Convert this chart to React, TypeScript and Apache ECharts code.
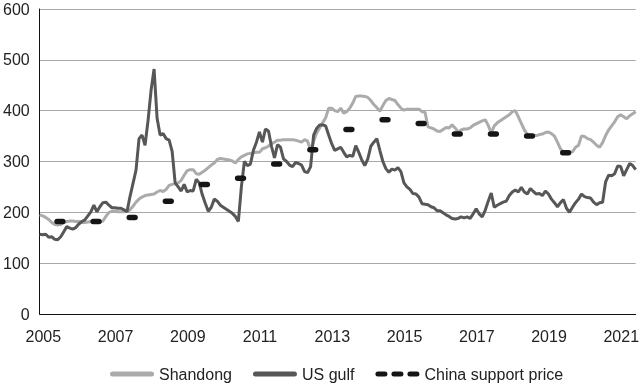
import React, { useEffect, useRef } from "react";
import * as echarts from "echarts";

// Monthly series, starting January 2005
const START_YEAR = 2005;

const shandong = [
  195, 193, 190, 186, 180, 176, 175, 176, 180, 182, 183, 183,
  182, 182, 180, 180, 181, 182, 181, 180, 181, 183, 192, 200,
  202, 202, 201, 201, 201, 202, 205, 212, 220, 226, 230, 233,
  234, 235, 236, 240, 243, 241, 245, 253, 255, 256, 258, 263,
  273, 282, 284, 284, 276, 275, 279, 283, 288, 293, 297, 304,
  306, 305, 304, 303, 301, 297, 304, 309, 312, 315, 316, 317,
  318, 318, 325, 327, 330, 335, 338, 342, 342, 343, 343, 343,
  343, 342, 340, 338, 343, 340, 322, 340, 356, 366, 376, 386,
  405, 405, 400, 398, 405, 395, 398, 405, 415, 428, 429, 429,
  428, 426, 420, 412, 406, 399, 410, 420, 424, 422, 420, 412,
  405, 401, 403, 403, 403, 403, 403, 398, 397, 368, 366, 364,
  360, 359, 363, 367, 366, 372, 366, 358, 362, 364, 364, 366,
  371, 374, 377, 380, 382, 371, 356, 370, 376, 380, 384, 388,
  392, 398, 400, 388, 375, 362, 354, 351, 351, 351, 353, 354,
  357, 358, 355, 350, 338, 325, 318, 317, 318, 319, 328, 332,
  350, 349, 345, 343, 338, 332, 328, 337, 351, 362, 370, 378,
  388, 392, 388, 384, 390, 394, 398,
];

const usGulf = [
  157, 156, 157, 151, 152, 147, 146, 152, 162, 172, 169, 167,
  170, 177, 182, 185, 193, 201, 214, 201, 211, 219, 220, 214,
  209, 209, 208, 208, 205, 201, 231, 257, 283, 345, 352, 332,
  381, 440, 482, 385, 352, 355, 345, 342, 320, 258, 250, 242,
  255, 240, 243, 242, 265, 258, 235, 218, 202, 210, 226, 222,
  214, 210, 206, 202, 198, 192, 182, 250, 300, 292, 295, 322,
  338, 358, 338, 364, 360, 330, 307, 333, 328, 305, 300, 293,
  290, 298, 296, 293, 280, 278, 290, 352, 365, 372, 372, 370,
  352, 335, 322, 325, 328, 318, 309, 312, 310, 331, 318, 303,
  292, 305, 330, 338, 345, 322, 300, 286, 279, 285, 283, 288,
  280, 258, 250, 245, 237, 236, 230, 217, 216, 215, 211, 209,
  203, 203, 199, 195, 192, 188, 187, 188, 191, 189, 191, 188,
  197, 207, 197, 191, 204, 222, 238, 210, 214, 217, 220, 222,
  233, 240, 244, 240, 249, 240, 236, 247, 241, 236, 237, 233,
  242, 236, 226, 219, 211, 219, 225, 208, 200, 210, 219, 226,
  236, 231, 229, 228, 220, 215, 219, 220, 260, 273, 272, 276,
  291, 290, 272, 284, 296, 292, 284,
];

const supportYears = [
  2005, 2006, 2007, 2008, 2009, 2010, 2011, 2012, 2013, 2014, 2015, 2016,
  2017, 2018, 2019,
];
const supportPrices = [
  182, 182, 190, 222, 255, 267, 295, 323, 363, 382, 375, 354, 354, 350, 317,
];

const xTickYears = [2005, 2007, 2009, 2011, 2013, 2015, 2017, 2019, 2021];
const yTicks = [0, 100, 200, 300, 400, 500, 600];

const FONT = "'Liberation Sans', Arial, Helvetica, sans-serif";
const LABEL_SHIFT = 0.1;

export default function App() {
  const ref = useRef<HTMLDivElement>(null);

  useEffect(() => {
    if (!ref.current) return;
    const chart = echarts.init(ref.current, undefined, { renderer: "svg" });

    const toXY = (arr: number[]) =>
      arr.map((v, i) => [START_YEAR + i / 12, v]);
    const xMax = START_YEAR + (shandong.length - 1) / 12;

    const lineIcon =
      "path://M2.5,0H41.5A2.5,2.5 0 0 1 41.5,5H2.5A2.5,2.5 0 0 1 2.5,0Z";
    const dashIcon =
      "path://M2.5,0H9.5A2.5,2.5 0 0 1 9.5,5H2.5A2.5,2.5 0 0 1 2.5,0Z M18.5,0H25.5A2.5,2.5 0 0 1 25.5,5H18.5A2.5,2.5 0 0 1 18.5,0Z M34.5,0H41.5A2.5,2.5 0 0 1 41.5,5H34.5A2.5,2.5 0 0 1 34.5,0Z";

    chart.setOption({
      animation: false,
      grid: { left: 37, right: 3, top: 9, bottom: 70 },
      legend: {
        left: 110,
        top: 366,
        padding: 0,
        itemWidth: 44,
        itemHeight: 5,
        itemGap: 21,
        textStyle: { fontSize: 16, color: "#222", fontFamily: FONT },
        data: [
          { name: "Shandong", icon: lineIcon },
          { name: "US gulf", icon: lineIcon },
          { name: "China support price", icon: dashIcon },
        ],
      },
      xAxis: {
        type: "value",
        min: START_YEAR,
        max: xMax,
        axisLine: { show: true, lineStyle: { color: "#111", width: 1 } },
        axisTick: { show: false },
        splitLine: { show: false },
        axisLabel: {
          customValues: xTickYears.map((y) => y + LABEL_SHIFT),
          formatter: (v: number) => String(Math.round(v - LABEL_SHIFT)),
          fontSize: 16,
          color: "#222",
          fontFamily: FONT,
          margin: 14,
        },
      },
      yAxis: {
        type: "value",
        min: yTicks[0],
        max: yTicks[yTicks.length - 1],
        interval: yTicks[1] - yTicks[0],
        axisLine: { show: true, lineStyle: { color: "#111", width: 1 } },
        axisTick: { show: false },
        splitLine: { show: true, lineStyle: { color: "#a8a8a8", width: 1 } },
        axisLabel: {
          fontSize: 16,
          color: "#222",
          fontFamily: FONT,
          margin: 10,
        },
      },
      series: [
        {
          name: "Shandong",
          type: "line",
          data: toXY(shandong),
          symbol: "none",
          color: "#ababab",
          lineStyle: { color: "#ababab", width: 3 },
          z: 2,
        },
        {
          name: "US gulf",
          type: "line",
          data: toXY(usGulf),
          symbol: "none",
          color: "#575757",
          lineStyle: { color: "#575757", width: 3 },
          z: 3,
        },
        {
          name: "China support price",
          type: "custom",
          color: "#151515",
          z: 4,
          data: supportYears.map((y, i) => [y, supportPrices[i]]),
          renderItem: (_params: any, api: any) => {
            const yr = api.value(0);
            const v = api.value(1);
            const a = api.coord([yr + 0.48, v]);
            const b = api.coord([yr + 0.64, v]);
            return {
              type: "line",
              shape: { x1: a[0], y1: a[1], x2: b[0], y2: b[1] },
              style: { stroke: "#151515", lineWidth: 5.5, lineCap: "round" },
            };
          },
        },
      ],
    });

    return () => chart.dispose();
  }, []);

  return (
    <div
      ref={ref}
      style={{ position: "fixed", left: 0, top: 0, width: 642, height: 384 }}
    />
  );
}
